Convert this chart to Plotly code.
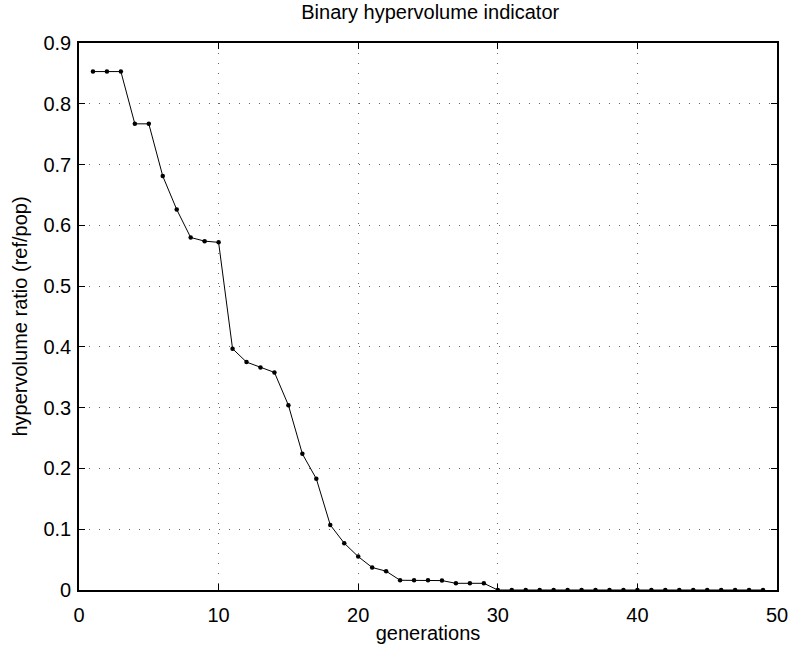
import plotly.graph_objects as go

generations = list(range(1, 50))
hv_ratio = [0.853, 0.853, 0.853, 0.767, 0.767, 0.681, 0.626, 0.580, 0.574, 0.572,
            0.397, 0.375, 0.366, 0.358, 0.304, 0.224, 0.183, 0.107, 0.077, 0.055,
            0.037, 0.031, 0.016, 0.016, 0.016, 0.0155, 0.011, 0.011, 0.011] + [0.0] * 20

x_ticks = [0, 10, 20, 30, 40, 50]
y_ticks = [0, 0.1, 0.2, 0.3, 0.4, 0.5, 0.6, 0.7, 0.8, 0.9]
y_labels = ["0", "0.1", "0.2", "0.3", "0.4", "0.5", "0.6", "0.7", "0.8", "0.9"]

font = "Liberation Sans, Arial, Helvetica, sans-serif"

fig = go.Figure()
fig.add_trace(go.Scatter(
    x=generations, y=hv_ratio, mode="lines+markers",
    line=dict(color="black", width=1),
    marker=dict(color="black", size=4.5),
    showlegend=False,
))

axis_common = dict(
    showline=True, linecolor="black", linewidth=1.6, mirror="allticks",
    ticks="inside", ticklen=6, tickcolor="black", tickwidth=1,
    showgrid=True, gridcolor="#666666", griddash="1px,9px", gridwidth=1,
    zeroline=False, automargin=False, ticklabeloverflow="allow",
    tickfont=dict(family=font, size=20, color="black"),
)

fig.update_layout(
    width=788, height=650,
    margin=dict(l=79, r=11, t=43, b=60),
    paper_bgcolor="white", plot_bgcolor="white",
    title=dict(text="Binary hypervolume indicator", x=0.546, xanchor="center",
               y=0.992, yanchor="top",
               font=dict(family=font, size=20, color="black")),
    xaxis=dict(range=[0, 50], tickvals=x_ticks, ticklabelstandoff=6,
               title=dict(text="generations", font=dict(family=font, size=20, color="black"), standoff=1),
               **axis_common),
    yaxis=dict(range=[0, 0.9], tickvals=y_ticks, ticktext=y_labels, ticklabelstandoff=2,
               title=dict(text="hypervolume ratio (ref/pop)", font=dict(family=font, size=20, color="black"), standoff=10),
               **axis_common),
)

fig.write_html("out.html")
